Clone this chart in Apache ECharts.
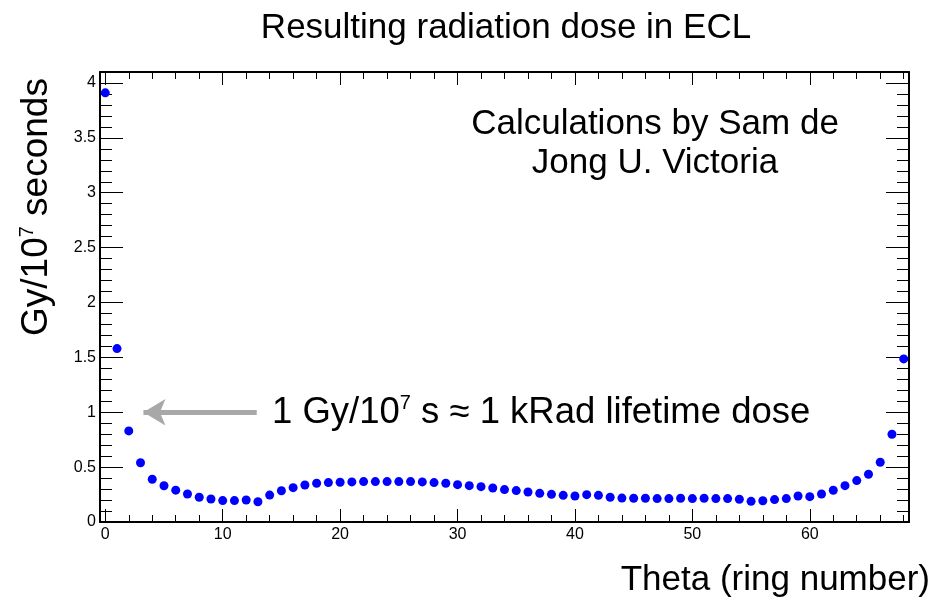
<!DOCTYPE html>
<html><head><meta charset="utf-8">
<script src="https://cdn.jsdelivr.net/npm/echarts@6/dist/echarts.min.js"></script>
<style>html,body{margin:0;padding:0;background:#fff}#c{width:951px;height:601px}</style>
</head><body><div id="c"></div>
<script>
var rings = [];
for (var r = 0; r <= 68; r++) rings.push(r);
var dose = [3.91,1.58,0.83,0.54,0.39,0.33,0.29,0.255,0.225,0.21,
0.195,0.195,0.2,0.185,0.245,0.285,0.313,0.337,0.353,0.359,
0.362,0.365,0.368,0.368,0.368,0.368,0.368,0.365,0.359,0.353,
0.340,0.331,0.322,0.310,0.295,0.286,0.273,0.261,0.252,0.243,
0.237,0.249,0.243,0.225,0.218,0.216,0.216,0.213,0.213,0.216,
0.213,0.216,0.213,0.213,0.207,0.188,0.194,0.204,0.213,0.237,
0.231,0.255,0.289,0.331,0.377,0.435,0.544,0.799,1.486];
var xTicks = [0,10,20,30,40,50,60];
var yTicks = [0,0.5,1,1.5,2,2.5,3,3.5,4];
var xMinor = [], yMinor = [];
for (var i = 2; i <= 68; i += 2) if (i % 10 !== 0) xMinor.push(i);
for (var j = 1; j <= 41; j++) if (j % 5 !== 0) yMinor.push(+(j/10).toFixed(1));
var xMin = -0.45, xMax = 68.45, yMin = 0, yMax = 4.1;

var FONT = '"Liberation Sans", Arial, sans-serif';
var BIG = 35;
function xa(pos, ticks, len, labels, line) {
  return {type:'value', position:pos, min:xMin, max:xMax, splitLine:{show:false},
    axisLine:{show:line, onZero:false, lineStyle:{color:'#000', width:2}},
    axisTick:{show:true, inside:true, length:len, customValues:ticks, lineStyle:{color:'#000', width:1}},
    axisLabel:{show:labels, customValues:ticks, color:'#000', fontSize:16, fontFamily:FONT, margin:5}};
}
function ya(pos, ticks, len, labels, line) {
  return {type:'value', position:pos, min:yMin, max:yMax, splitLine:{show:false},
    axisLine:{show:line, onZero:false, lineStyle:{color:'#000', width:2}},
    axisTick:{show:true, inside:true, length:len, customValues:ticks, lineStyle:{color:'#000', width:1}},
    axisLabel:{show:labels, customValues:ticks, color:'#000', fontSize:16, fontFamily:FONT, margin:4,
      formatter:function(v){return String(v);}}};
}
var chart = echarts.init(document.getElementById('c'), null, {renderer:'canvas'});
chart.setOption({
  animation:false,
  backgroundColor:'#fff',
  grid:{left:100, right:42, top:72, bottom:79},
  xAxis:[xa('bottom', xTicks, 13, true, true), xa('bottom', xMinor, 7, false, false),
         xa('top', xTicks, 13, false, true), xa('top', xMinor, 7, false, false)],
  yAxis:[ya('left', yTicks, 23, true, true), ya('left', yMinor, 12, false, false),
         ya('right', yTicks, 23, false, true), ya('right', yMinor, 12, false, false)],
  series:[{type:'scatter', xAxisIndex:0, yAxisIndex:0, symbol:'circle', symbolSize:9,
    itemStyle:{color:'#0000ff', opacity:1},
    data: rings.map(function(x,k){return [x, dose[k]];}),
    markLine:{silent:true, symbol:['arrow','none'], symbolSize:[20,22], label:{show:false},
      lineStyle:{color:'#a8a8a8', width:5, type:'solid', opacity:1},
      data:[[{coord:[3.25,1.0]},{coord:[12.9,1.0]}]]}
  }],
  graphic:[
    {type:'text', x:506, y:28, style:{text:'Resulting radiation dose in ECL', align:'center', verticalAlign:'middle', fontSize:BIG, fontFamily:FONT, fill:'#000'}},
    {type:'text', x:37, y:336, rotation:Math.PI/2, style:{text:'{n|Gy/10}{s|7}{n| seconds}', align:'left', verticalAlign:'middle',
      rich:{n:{fontSize:37, fontFamily:FONT, fill:'#000', lineHeight:40, verticalAlign:'middle'},
            s:{fontSize:20, fontFamily:FONT, fill:'#000', lineHeight:40, verticalAlign:'top'}}}},
    {type:'text', x:930, y:580, style:{text:'Theta (ring number)', align:'right', verticalAlign:'middle', fontSize:BIG, fontFamily:FONT, fill:'#000'}},
    {type:'text', x:655, y:144, style:{text:'Calculations by Sam de\nJong U. Victoria', align:'center', verticalAlign:'middle', fontSize:BIG, lineHeight:39, fontFamily:FONT, fill:'#000'}},
    {type:'text', x:272, y:413, style:{text:'{n|1 Gy/10}{s|7}{n| s \u2248 1 kRad lifetime dose}', align:'left', verticalAlign:'middle',
      rich:{n:{fontSize:36.5, fontFamily:FONT, fill:'#000', lineHeight:40, verticalAlign:'middle'},
            s:{fontSize:20, fontFamily:FONT, fill:'#000', lineHeight:40, verticalAlign:'top'}}}}
  ]
});
</script></body></html>
